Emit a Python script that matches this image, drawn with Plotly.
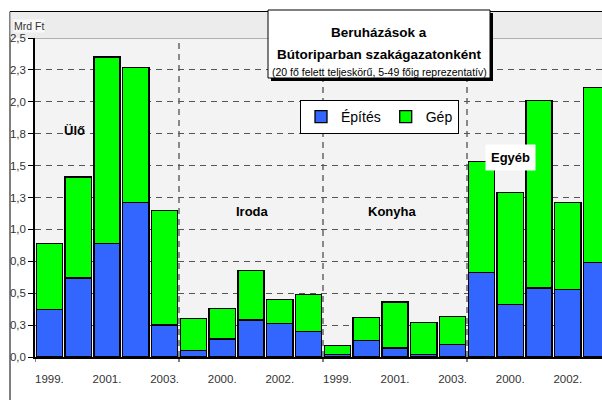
import plotly.graph_objects as go

# ---- data ----
years = ["1999.", "2000.", "2001.", "2002.", "2003."] * 4
groups = ["Ülő", "Iroda", "Konyha", "Egyéb"]
epites = [0.37, 0.62, 0.89, 1.21, 0.25,
          0.05, 0.14, 0.29, 0.26, 0.20,
          0.02, 0.13, 0.07, 0.02, 0.10,
          0.66, 0.41, 0.54, 0.53, 0.74]
gep = [0.52, 0.79, 1.46, 1.06, 0.90,
       0.25, 0.24, 0.39, 0.19, 0.29,
       0.07, 0.18, 0.36, 0.25, 0.22,
       0.87, 0.88, 1.47, 0.68, 1.37]
ytick_vals = [0, 0.25, 0.5, 0.75, 1.0, 1.25, 1.5, 1.75, 2.0, 2.25, 2.5]
ytick_text = ["0,0", "0,3", "0,5", "0,8", "1,0", "1,3", "1,5", "1,8", "2,0", "2,3", "2,5"]

W, H = 602, 400
L, R, T, B = 35, 0, 38, 43
PW, PH = W - L - R, H - T - B


def px(x):
    return (x - L) / PW


def py(y):
    return (H - B - y) / PH


xpos = list(range(len(years)))
FONT = "Liberation Sans, Arial, sans-serif"
NARROW = "Liberation Sans Narrow, Arial Narrow, Liberation Sans, sans-serif"

fig = go.Figure()
fig.add_trace(go.Bar(x=xpos, y=epites, name="Építés",
                     marker=dict(color="#3366FF", line=dict(color="black", width=1.3))))
fig.add_trace(go.Bar(x=xpos, y=gep, name="Gép",
                     marker=dict(color="#00FF00", line=dict(color="black", width=1.3))))

shapes = []
# outer frame
shapes.append(dict(type="rect", xref="paper", yref="paper", x0=px(10), x1=px(640),
                   y0=py(450), y1=py(11.5), line=dict(color="black", width=1),
                   fillcolor="rgba(0,0,0,0)", layer="below"))
# header band
shapes.append(dict(type="rect", xref="paper", yref="paper", x0=px(10.5), x1=px(640),
                   y0=py(38), y1=py(12), line=dict(width=0), fillcolor="#ececec", layer="below"))
shapes.append(dict(type="line", xref="paper", yref="paper", x0=px(35), x1=px(640),
                   y0=py(38.5), y1=py(38.5), line=dict(color="#b0b0b0", width=1), layer="below"))
# vertical group separators
for b in [4.5, 9.5, 14.5]:
    shapes.append(dict(type="line", xref="x", yref="paper", x0=b, x1=b, y0=0, y1=1,
                       line=dict(color="#444444", width=1.2, dash="6px,5px"), layer="below"))
for b in [-0.5, 4.5, 9.5, 14.5]:
    shapes.append(dict(type="line", xref="x", yref="paper", x0=b, x1=b, y0=0, y1=-5 / PH,
                       line=dict(color="black", width=1)))
# title box shadow + box
shapes.append(dict(type="rect", xref="paper", yref="paper", x0=px(271), x1=px(493),
                   y0=py(81), y1=py(13), line=dict(width=0), fillcolor="black"))
shapes.append(dict(type="rect", xref="paper", yref="paper", x0=px(268), x1=px(490),
                   y0=py(78), y1=py(10), line=dict(color="black", width=1), fillcolor="white"))

annotations = [
    dict(text="<b>Beruházások a</b>", x=px(379), y=py(23), xref="paper", yref="paper",
         showarrow=False, font=dict(family=FONT, size=13.5, color="black")),
    dict(text="<b>Bútoriparban szakágazatonként</b>", x=px(379), y=py(45), xref="paper", yref="paper",
         showarrow=False, font=dict(family=FONT, size=13.5, color="black")),
    dict(text="(20 fő felett teljeskörű, 5-49 főig reprezentatív)", x=px(379), y=py(64),
         xref="paper", yref="paper", showarrow=False,
         font=dict(family=NARROW, size=10.5, color="black")),
    dict(text="Mrd Ft", x=px(13), y=py(19), xref="paper", yref="paper", xanchor="left",
         showarrow=False, bgcolor="#f8f8f8", borderpad=0,
         font=dict(family=NARROW, size=10.5, color="#333333")),
]
label_pos = [(63, 122), (252, 211), (392, 211), (536, 144)]
for g, (lx, ly) in zip(groups, label_pos):
    annotations.append(dict(text="<b>" + g + "</b>", x=px(lx), y=py(ly), xref="paper", yref="paper",
                            showarrow=False, bgcolor="white" if g == "Egyéb" else None,
                            borderpad=5 if g == "Egyéb" else 0,
                            font=dict(family=FONT, size=13, color="black")))

fig.update_layout(
    width=W, height=H,
    margin=dict(l=L, r=R, t=T, b=B, pad=0, autoexpand=False),
    barmode="stack", bargap=0.09,
    paper_bgcolor="white", plot_bgcolor="#f3f3f3",
    font=dict(family=FONT, size=11, color="#333333"),
    showlegend=True,
    legend=dict(orientation="h", x=px(300), y=py(100), xanchor="left", yanchor="top",
                traceorder="normal",
                bgcolor="white", bordercolor="black", borderwidth=1,
                font=dict(family=FONT, size=14, color="black"),
                itemwidth=30, tracegroupgap=0),
    shapes=shapes, annotations=annotations,
    xaxis=dict(range=[-0.5, -0.5 + PW / 28.8], tickvals=xpos[::2], ticktext=years[::2],
               automargin=False,
               showgrid=False, zeroline=False, showline=True, linecolor="black", linewidth=1.5,
               ticks="outside", ticklen=10, tickcolor="rgba(0,0,0,0)",
               tickfont=dict(family=FONT, size=11.5, color="#333333")),
    yaxis=dict(range=[0, 2.5], tickvals=ytick_vals, ticktext=ytick_text,
               automargin=False,
               showgrid=True, gridcolor="#555555", griddash="6px,5px", gridwidth=1,
               zeroline=False, showline=True, linecolor="black", linewidth=1.5,
               ticks="outside", ticklen=5, tickcolor="black",
               tickfont=dict(family=FONT, size=11.5, color="#333333")),
)

fig.write_html("out.html", config={"displayModeBar": False},
               post_script="document.body.style.margin='0';document.body.style.overflow='hidden';")
